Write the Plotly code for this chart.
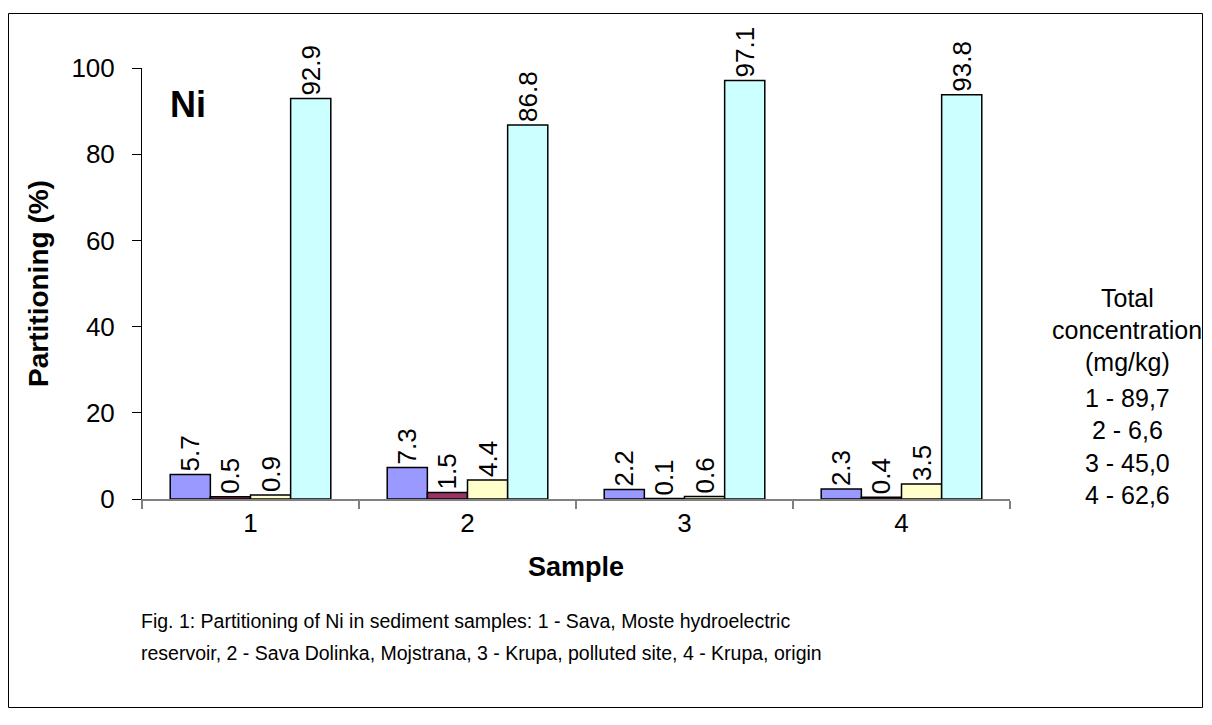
import plotly.graph_objects as go

samples = ["1", "2", "3", "4"]
series_names = ["Fraction 1", "Fraction 2", "Fraction 3", "Fraction 4"]
fraction1 = [5.7, 7.3, 2.2, 2.3]
fraction2 = [0.5, 1.5, 0.1, 0.4]
fraction3 = [0.9, 4.4, 0.6, 3.5]
fraction4 = [92.9, 86.8, 97.1, 93.8]
colors = ["#9999FF", "#993366", "#FFFFCC", "#CCFFFF"]
total_lines = ["Total", "concentration", "(mg/kg)", "1 - 89,7", "2 - 6,6", "3 - 45,0", "4 - 62,6"]
caption_lines = [
    "Fig. 1: Partitioning of Ni in sediment samples: 1 - Sava, Moste hydroelectric",
    "reservoir, 2 - Sava Dolinka, Mojstrana, 3 - Krupa, polluted site, 4 - Krupa, origin",
]

OFF = 8  # page body margin
W, H = 1212 - 2 * OFF, 725 - 2 * OFF
L, R, T, B = 142 - OFF, 1010 - OFF, 68 - OFF, 499 - OFF
FONT = "Liberation Sans, Arial, Helvetica, sans-serif"

fig = go.Figure()
for name, vals, col in zip(series_names, [fraction1, fraction2, fraction3, fraction4], colors):
    fig.add_trace(go.Bar(
        x=samples, y=vals, name=name,
        marker=dict(color=col, line=dict(color="black", width=1.5)),
        text=[f"{v:.1f}" for v in vals], textposition="outside", textangle=-90,
        textfont=dict(size=26, color="black", family=FONT),
        cliponaxis=False, constraintext="none",
    ))

fig.update_layout(
    width=W, height=H, barmode="group", bargap=0.26, bargroupgap=0,
    showlegend=False, plot_bgcolor="white", paper_bgcolor="white",
    margin=dict(l=L, r=W - R, t=T, b=H - B, autoexpand=False),
    font=dict(family=FONT, color="black"),
)
fig.update_xaxes(
    type="category", showline=True, linecolor="#808080", linewidth=1.5,
    ticks="outside", tickson="boundaries", ticklen=8, tickcolor="#808080", tickwidth=1.5,
    tickfont=dict(size=26), showgrid=False, zeroline=False,
    title=dict(text="<b>Sample</b>", font=dict(size=27), standoff=20),
)
fig.update_yaxes(
    range=[0, 100], tickvals=[0, 20, 40, 60, 80, 100], showline=True, linecolor="black",
    linewidth=1, ticks="outside", ticklen=9, tickcolor="black", tickfont=dict(size=26),
    ticklabelstandoff=12, showgrid=False, zeroline=False,
    title=dict(text="<b>Partitioning (%)</b>", font=dict(size=28), standoff=14),
)

def px(x):
    return (x - OFF - L) / (R - L)

def py(y):
    return (B - (y - OFF)) / (B - T)

fig.add_shape(type="rect", xref="paper", yref="paper",
              x0=px(8.5), x1=px(1202.5), y0=py(13.5), y1=py(707.5),
              line=dict(color="black", width=1), layer="below")

fig.add_annotation(text="<b>Ni</b>", xref="paper", yref="paper", x=px(188), y=py(104),
                   showarrow=False, font=dict(size=36), xanchor="center", yanchor="middle")

ys = [298, 330, 362, 398, 430, 463, 495]
for txt, yy in zip(total_lines, ys):
    fig.add_annotation(text=txt, xref="paper", yref="paper", x=px(1127), y=py(yy),
                       showarrow=False, font=dict(size=25), xanchor="center", yanchor="middle")

for txt, yy in zip(caption_lines, [621, 653]):
    fig.add_annotation(text=txt, xref="paper", yref="paper", x=px(139), y=py(yy),
                       showarrow=False, font=dict(size=19.5), xanchor="left", yanchor="middle")

fig.write_html("out.html")
